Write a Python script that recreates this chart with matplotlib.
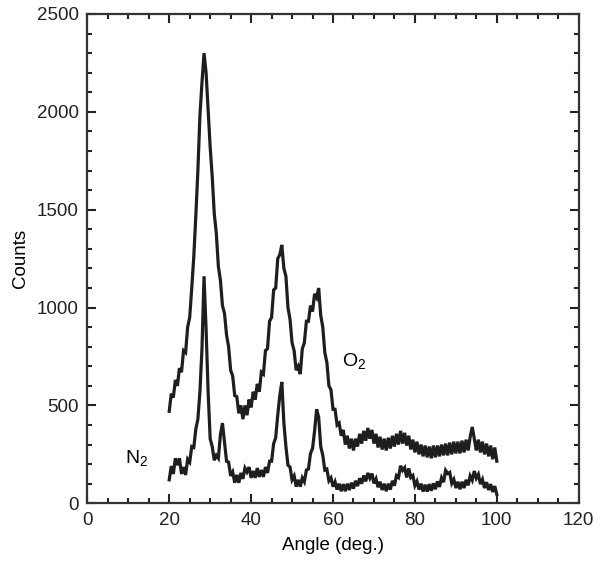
import numpy as np
import matplotlib
matplotlib.use('Agg')
import matplotlib.pyplot as plt
from matplotlib.ticker import MultipleLocator

plt.rcParams['font.family'] = ['Liberation Sans', 'DejaVu Sans']
plt.rcParams['mathtext.fontset'] = 'custom'
plt.rcParams['mathtext.rm'] = 'Liberation Sans'

# scan angles, 0.5 deg steps from 20 to 100
angle = np.arange(20.0, 100.01, 0.5)

# O2 counts (band top / bottom alternating)
o2_counts = [
    470, 560, 540, 630, 600, 690, 670, 780, 770, 900,
    950, 1100, 1260, 1470, 1700, 1980, 2150, 2300, 2200, 2010,
    1820, 1670, 1480, 1380, 1210, 1140, 1010, 970, 860, 800,
    680, 650, 550, 545, 460, 500, 430, 500, 450, 530,
    490, 570, 530, 610, 570, 670, 660, 780, 790, 930,
    950, 1090, 1100, 1250, 1270, 1320, 1200, 1160, 1000, 940,
    820, 780, 680, 700, 660, 790, 820, 930, 930, 1010,
    980, 1070, 1050, 1100, 960, 900, 770, 720, 600, 580,
    480, 480, 400, 410, 345, 375, 300, 345, 280, 330,
    270, 330, 290, 355, 305, 370, 320, 385, 330, 375,
    305, 355, 285, 340, 275, 330, 270, 335, 280, 345,
    290, 355, 300, 370, 305, 360, 295, 345, 275, 325,
    260, 315, 250, 300, 240, 295, 235, 290, 230, 295,
    235, 295, 240, 300, 245, 305, 245, 310, 250, 315,
    255, 315, 255, 320, 260, 325, 270, 340, 390, 330,
    270, 325, 260, 315, 250, 305, 240, 295, 225, 285,
    215,
]

# N2 counts
n2_counts = [
    120, 190, 150, 230, 195, 230, 150, 185, 145, 225,
    210, 290, 285, 380, 430, 570, 790, 1160, 890, 570,
    330, 290, 220, 245, 230, 350, 410, 310, 215, 210,
    140, 160, 105, 145, 105, 155, 125, 180, 160, 185,
    130, 165, 130, 180, 135, 170, 135, 185, 155, 215,
    215, 305, 335, 450, 550, 620, 410, 290, 195, 185,
    120, 140, 85, 120, 85, 130, 110, 170, 175, 255,
    280, 370, 480, 440, 290, 245, 170, 175, 115, 130,
    85, 110, 70, 100, 62, 98, 62, 100, 68, 105,
    75, 115, 88, 128, 100, 142, 112, 155, 128, 152,
    102, 125, 82, 110, 68, 100, 62, 100, 70, 115,
    90, 142, 132, 192, 168, 182, 132, 178, 132, 142,
    90, 112, 70, 100, 60, 95, 60, 98, 64, 102,
    72, 112, 84, 130, 108, 168, 152, 158, 102, 122,
    78, 110, 72, 110, 78, 120, 92, 140, 118, 165,
    128, 148, 98, 122, 78, 108, 68, 98, 58, 88,
    45,
]

fig = plt.figure(figsize=(6.01, 5.68), dpi=100)
ax = fig.add_axes([0.1453, 0.1139, 0.8176, 0.8615])

for counts in (o2_counts, n2_counts):
    ax.plot(angle, counts, color='#1e1e1e', lw=2.3, solid_joinstyle='miter')

ax.text(65.2, 723, r'O$_2$', fontsize=14, ha='center', va='center')
ax.text(12.1, 226, r'N$_2$', fontsize=14, ha='center', va='center')

ax.set_xlim(0, 120)
ax.set_ylim(0, 2500)
ax.xaxis.set_major_locator(MultipleLocator(20))
ax.xaxis.set_minor_locator(MultipleLocator(5))
ax.yaxis.set_major_locator(MultipleLocator(500))
ax.yaxis.set_minor_locator(MultipleLocator(100))
ax.tick_params(which='both', direction='in', top=True, right=True,
               width=1.5, labelsize=13.5, colors='#222222')
ax.tick_params(which='major', length=6.5, pad=6)
ax.tick_params(which='minor', length=3.5)
for s in ax.spines.values():
    s.set_linewidth(1.6)
    s.set_color('#333333')

ax.set_xlabel('Angle (deg.)', fontsize=13.5, labelpad=6)
ax.set_ylabel('Counts', fontsize=13.5, labelpad=6)

fig.savefig('out.png', dpi=100)
